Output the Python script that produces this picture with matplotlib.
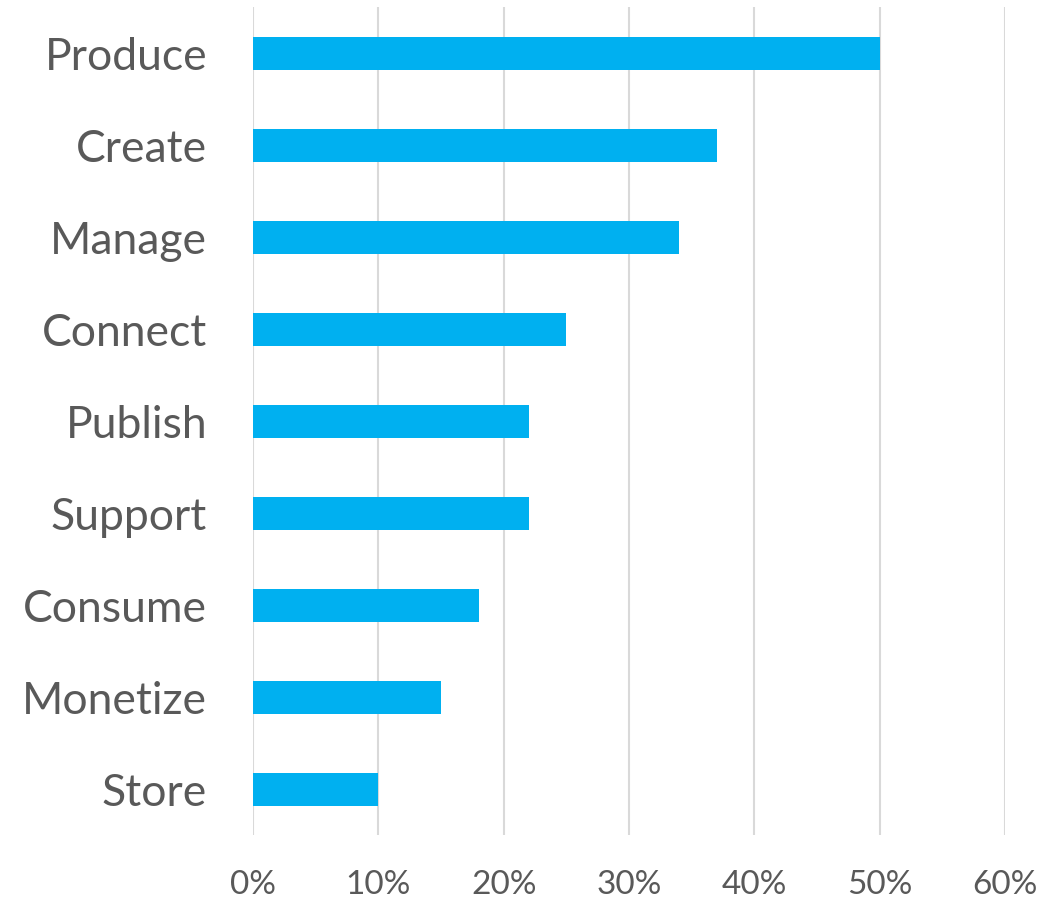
import matplotlib
matplotlib.use('Agg')
import matplotlib.pyplot as plt
from matplotlib.ticker import PercentFormatter

categories = ['Produce', 'Create', 'Manage', 'Connect', 'Publish',
              'Support', 'Consume', 'Monetize', 'Store']
shares = [0.50, 0.37, 0.34, 0.25, 0.22, 0.22, 0.18, 0.15, 0.10]
xticks = [0.0, 0.1, 0.2, 0.3, 0.4, 0.5, 0.6]

plt.rcParams['font.family'] = ['Lato', 'DejaVu Sans']

fig = plt.figure(figsize=(10.63, 9), dpi=100)
ax = fig.add_axes([0.238, 0.0717, 0.7075, 0.92])

ypos = list(range(len(categories)))[::-1]
ax.barh(ypos, shares, height=0.36, color='#00B0F0', zorder=3)

ax.set_xlim(0, 0.6)
ax.set_ylim(-0.5, len(categories) - 0.5)
ax.set_xticks(xticks)
ax.xaxis.set_major_formatter(PercentFormatter(1.0, decimals=0))
ax.set_yticks(ypos)
ax.set_yticklabels(categories)

ax.grid(axis='x', color='#d9d9d9', linewidth=1.5, zorder=0)
for s in ax.spines.values():
    s.set_visible(False)
ax.tick_params(axis='y', length=0, pad=33, labelsize=32, labelcolor='#595959')
ax.tick_params(axis='x', length=0, pad=25, labelsize=24, labelcolor='#595959')

fig.savefig('out.png', dpi=100)
